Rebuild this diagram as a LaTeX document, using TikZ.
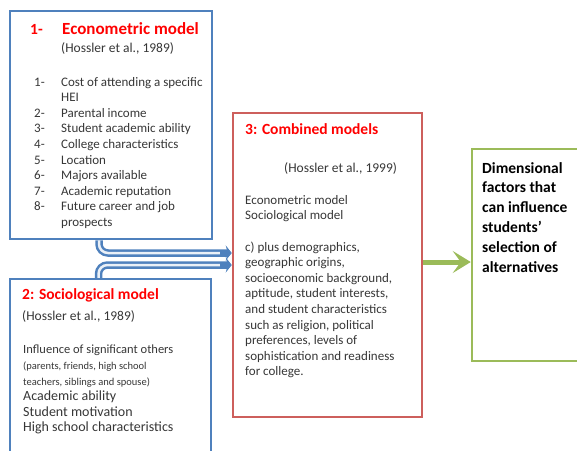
\documentclass[tikz,border=0pt]{standalone}
\usepackage{fontspec}
\setmainfont{Carlito}
\usetikzlibrary{arrows.meta,positioning}
\definecolor{ofblue}{RGB}{79,129,189}
\definecolor{ofred}{RGB}{205,95,92}
\definecolor{ofgreen}{RGB}{155,187,89}
\definecolor{titlered}{RGB}{255,0,0}
\definecolor{txtgray}{RGB}{55,55,55}

\tikzset{
  box/.style={draw=#1, line width=2.5pt, fill=white},
  headtxt/.style={text=titlered, font=\fontsize{15.5}{18}\selectfont\bfseries, inner sep=0pt, anchor=west},
  reftxt/.style={text=txtgray, font=\fontsize{13.5}{16}\selectfont, inner sep=0pt, anchor=west},
  bodytxt/.style={text=txtgray, font=\fontsize{13}{15.6}\selectfont, inner sep=0pt, align=left, anchor=north west},
  pipe/.style={draw=ofblue, line width=7.5pt, rounded corners=9pt, -{Stealth[length=6pt,width=15pt,inset=2pt]}},
  pipecore/.style={draw=ofblue!12, line width=2.5pt, rounded corners=9pt},
  flow/.style={draw=ofgreen, line width=5pt, -{Stealth[length=18pt,width=22pt,inset=8pt]}}
}

\begin{document}
\begin{tikzpicture}[x=1pt,y=-1pt]
  \useasboundingbox (0,0) rectangle (577,450);

  % the four boxes
  \node[box=ofblue, minimum width=202pt, minimum height=228pt] (b1) at (111,125) {};
  \node[box=ofblue, minimum width=201pt, minimum height=180pt] (b2) at (110.5,369) {};
  \node[box=ofred, minimum width=189pt, minimum height=304pt] (b3) at (327.5,265) {};
  \node[box=ofgreen, minimum width=110pt, minimum height=212pt] (b4) at (527,255) {};

  % 1- econometric model
  \node[headtxt] (n1) at (30,29) {1-};
  \node[headtxt, font=\fontsize{17}{18}\selectfont\bfseries] (t1) at (62,29) {Econometric model};
  \node[reftxt] (r1) at (61,48) {(Hossler et al., 1989)};
  \node[bodytxt] (l1) at (34,75) {%
    \begin{tabular}{@{}p{27pt}@{}l@{}}
      1- & Cost of attending a specific\\
         & HEI\\
      2- & Parental income\\
      3- & Student academic ability\\
      4- & College characteristics\\
      5- & Location\\
      6- & Majors available\\
      7- & Academic reputation\\
      8- & Future career and job\\
         & prospects
    \end{tabular}};

  % 2: sociological model
  \node[headtxt] (t2) at (22,295) {2: Sociological model};
  \node[reftxt] (r2) at (22,316) {(Hossler et al., 1989)};
  \node[bodytxt, font=\fontsize{12.5}{15.6}\selectfont] (l2) at (23,345) {%
    Influence of significant others\\
    {\fontsize{10.5}{11}\selectfont(parents, friends, high school}\\
    {\fontsize{10.5}{11}\selectfont teachers, siblings and spouse)}\\
    {\fontsize{14}{15}\selectfont Academic ability}\\
    {\fontsize{14}{15}\selectfont Student motivation}\\
    {\fontsize{14}{15}\selectfont High school characteristics}};

  % 3: combined models
  \node[headtxt] (t3) at (245,129) {3: Combined models};
  \node[reftxt] (r3) at (284,168) {(Hossler et al., 1999)};
  \node[bodytxt] (l3) at (245,195) {%
    Econometric model\\
    Sociological model\\[15.6pt]
    c) plus demographics,\\
    geographic origins,\\
    socioeconomic background,\\
    aptitude, student interests,\\
    and student characteristics\\
    such as religion, political\\
    preferences, levels of\\
    sophistication and readiness\\
    for college.};

  % outcome
  \node[bodytxt, text=black, font=\fontsize{15.5}{19.8}\selectfont\bfseries] (l4) at (482,162) {%
    Dimensional\\ factors that\\ can influence\\ students'\\ selection of\\ alternatives};

  % connectors
  \draw[pipe] ([xshift=-12pt]b1.south) |- ([yshift=12pt]b3.west);
  \draw[pipe] ([xshift=-12pt]b2.north) |- (b3.west);
  \draw[pipecore, shorten >=12pt] ([xshift=-12pt]b1.south) |- ([yshift=12pt]b3.west);
  \draw[pipecore, shorten >=12pt] ([xshift=-12pt]b2.north) |- (b3.west);
  \draw[flow] ([yshift=3pt]b3.east) -- ([yshift=3pt]b3.east -| b4.west);
\end{tikzpicture}
\end{document}
